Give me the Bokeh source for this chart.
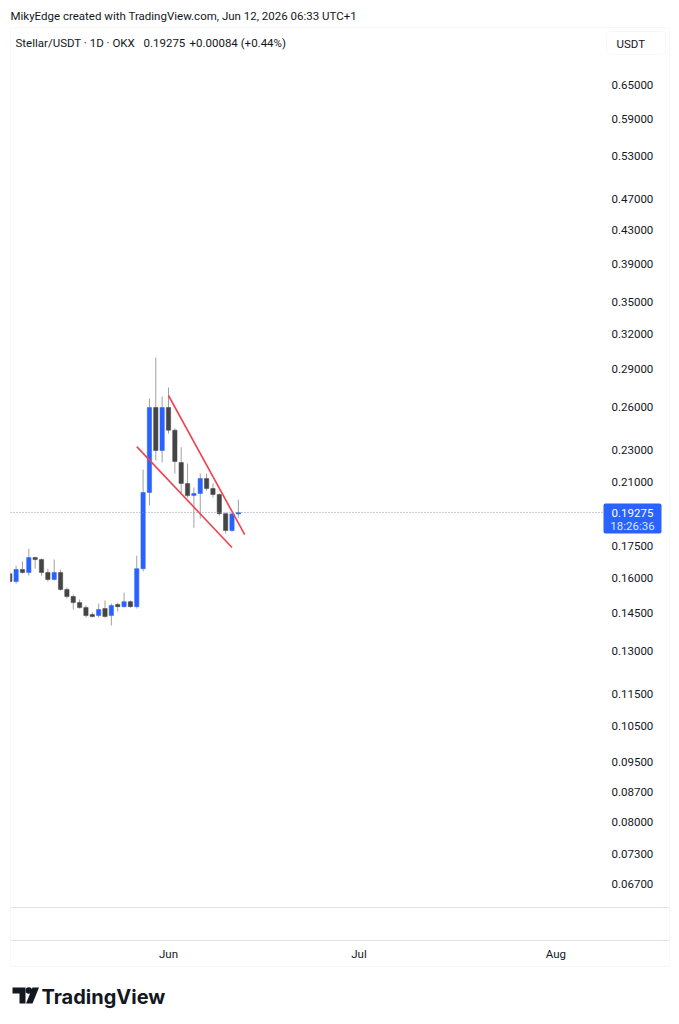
import numpy as np
import pandas as pd
from bokeh.plotting import figure
from bokeh.models import (Range1d, LinearScale, FixedTicker, PrintfTickFormatter, Label,
                          BoxAnnotation, ColumnDataSource)
from bokeh.embed import file_html
from bokeh.resources import INLINE

# ---------------- data ----------------
dates = pd.date_range("2026-05-07", "2026-06-12", freq="D")
opens = [0.1620, 0.1584, 0.1639, 0.1625, 0.1696, 0.1686, 0.1625, 0.1593, 0.1625, 0.1549,
         0.1518, 0.1492, 0.1471, 0.1442, 0.1438, 0.1467, 0.1438, 0.1484, 0.1475, 0.1496,
         0.1475, 0.1643, 0.2040, 0.2597, 0.2298, 0.2597, 0.2435, 0.2221, 0.2093, 0.2022,
         0.2034, 0.2122, 0.2063, 0.2028, 0.1921, 0.1831, 0.19191]
highs = [0.1630, 0.1657, 0.1677, 0.1739, 0.1700, 0.1691, 0.1643, 0.1686, 0.1639, 0.1557,
         0.1527, 0.1505, 0.1480, 0.1451, 0.1488, 0.1501, 0.1488, 0.1492, 0.1535, 0.1501,
         0.1705, 0.2177, 0.2664, 0.2993, 0.2679, 0.2748, 0.2447, 0.2320, 0.2215, 0.2069,
         0.2153, 0.2153, 0.2093, 0.2034, 0.1927, 0.1927, 0.1999]
lows = [0.1575, 0.1575, 0.1620, 0.1611, 0.1643, 0.1611, 0.1584, 0.1589, 0.1544, 0.1509,
        0.1463, 0.1467, 0.1430, 0.1430, 0.1430, 0.1430, 0.1398, 0.1455, 0.1471, 0.1471,
        0.1467, 0.1630, 0.1966, 0.2235, 0.2221, 0.2411, 0.2153, 0.2034, 0.2011, 0.1846,
        0.1894, 0.2050, 0.2011, 0.1910, 0.1815, 0.1825, 0.1900]
closes = [0.1584, 0.1639, 0.1625, 0.1696, 0.1686, 0.1625, 0.1593, 0.1625, 0.1549, 0.1518,
          0.1492, 0.1471, 0.1438, 0.1434, 0.1463, 0.1434, 0.1480, 0.1475, 0.1496, 0.1475,
          0.1643, 0.2040, 0.2597, 0.2298, 0.2597, 0.2435, 0.2228, 0.2093, 0.2022, 0.2034,
          0.2122, 0.2063, 0.2028, 0.1921, 0.1831, 0.19191, 0.19275]

price_ticks = [0.067, 0.073, 0.080, 0.087, 0.095, 0.105, 0.115, 0.130, 0.145, 0.160,
               0.175, 0.210, 0.230, 0.260, 0.290, 0.320, 0.350, 0.390, 0.430, 0.470,
               0.530, 0.590, 0.650]
time_tick_dates = ["2026-06-01", "2026-07-01", "2026-08-01"]
time_tick_labels = ["Jun", "Jul", "Aug"]

last_price = 0.19275
countdown = "18:26:36"
change_text = "+0.00084 (+0.44%)"

upper_line_dates = ["2026-06-01", "2026-06-13"]
upper_line_prices = [0.2687, 0.1810]
lower_line_dates = ["2026-05-27", "2026-06-11"]
lower_line_prices = [0.2324, 0.1745]

# ---------------- layout helpers ----------------
DAY = 86400000.0
def ms(s):
    return pd.Timestamp(s).value / 1e6

W, H = 671, 1016
PX_DAY = 6.35          # pixels per day
X_JUN1 = 168.0         # canvas x of Jun 1
K = 352.05             # pixels per ln-unit of price
Y_REF, P_REF = 84.0, 0.65
PANE_L, PANE_R, PANE_T, PANE_B = 10, 603, 27, 907

def xdata(px):
    return ms("2026-06-01") + (px - X_JUN1) / PX_DAY * DAY

def ydata(py):
    return P_REF * np.exp(-(py - Y_REF) / K)

x = [d.value / 1e6 for d in dates]
up = [c >= o for o, c in zip(opens, closes)]
src = ColumnDataSource(dict(
    x=x, high=highs, low=lows,
    top=[max(o, c) for o, c in zip(opens, closes)],
    bottom=[min(o, c) for o, c in zip(opens, closes)],
    color=["#2962ff" if u else "#454545" for u in up],
))

p = figure(width=W, height=H, x_range=Range1d(xdata(0), xdata(W)),
           y_range=Range1d(ydata(H), ydata(0)),
           y_axis_type="log", y_axis_location="right", output_backend="svg",
           toolbar_location=None, min_border=0, min_border_left=0, min_border_right=0,
           min_border_top=0, min_border_bottom=0,
           background_fill_color="white", border_fill_color="white", outline_line_color=None)
p.grid.visible = False

p.extra_x_ranges = {"px": Range1d(0, W)}
p.extra_x_scales = {"px": LinearScale()}
p.extra_y_ranges = {"py": Range1d(H, 0)}
p.extra_y_scales = {"py": LinearScale()}

# price axis
ya = p.yaxis[0]
ya.fixed_location = xdata(PANE_R)
ya.ticker = FixedTicker(ticks=price_ticks)
ya.formatter = PrintfTickFormatter(format="%.5f")
ya.axis_line_color = None
ya.major_tick_line_color = None
ya.minor_tick_line_color = None
ya.major_tick_out = 0
ya.major_tick_in = 0
ya.major_label_standoff = 8
ya.major_label_text_font = "Roboto"
ya.major_label_text_font_size = "11.5px"
ya.major_label_text_color = "#131722"

# time axis
xa = p.xaxis[0]
xa.fixed_location = ydata(PANE_B)
tick_ms = [ms(d) for d in time_tick_dates]
xa.ticker = FixedTicker(ticks=tick_ms)
xa.major_label_overrides = {t: l for t, l in zip(tick_ms, time_tick_labels)}
xa.axis_line_color = None
xa.major_tick_line_color = None
xa.minor_tick_line_color = None
xa.major_tick_out = 0
xa.major_tick_in = 0
xa.major_label_standoff = 39
xa.major_label_text_font = "Roboto"
xa.major_label_text_font_size = "11.5px"
xa.major_label_text_color = "#131722"

def pbox(l, r, t, b, **kw):
    p.add_layout(BoxAnnotation(left=l, right=r, top=t, bottom=b, x_range_name="px",
                               y_range_name="py", **kw))

BORDER = "#e0e3eb"

# candles
p.segment(x0="x", y0="high", x1="x", y1="low", color="#a0a0a0", line_width=1, source=src)
p.vbar(x="x", top="top", bottom="bottom", width=0.68 * DAY, fill_color="color",
       line_color="color", line_width=0.5, source=src)

# trend lines
p.line([ms(d) for d in upper_line_dates], upper_line_prices, color="#ee4350", line_width=1.6)
p.line([ms(d) for d in lower_line_dates], lower_line_prices, color="#ee4350", line_width=1.6)

# last price dotted line across the pane
p.line(x=[PANE_L, PANE_R], y=[last_price, last_price], x_range_name="px",
       line_color="#9598a1", line_dash="1 2", line_width=1)

# mask left of pane, then frame decorations
pbox(0, PANE_L - 0.5, 0, H, fill_color="white", fill_alpha=1, line_color=None)
pbox(10, 669, 27, 966, fill_alpha=0, line_color=BORDER, line_width=1, border_radius=3)
pbox(10, 669, 906.5, 907.5, fill_color=BORDER, fill_alpha=1, line_color=None)
pbox(10, 669, 939.5, 940.5, fill_color=BORDER, fill_alpha=1, line_color=None)
pbox(606, 665, 31, 54, fill_color="white", fill_alpha=1, line_color=BORDER, border_radius=4)

# price box
pbox(603, 661, 503, 533, fill_color="#2962ff", fill_alpha=1, line_color=None, border_radius=2)

def plabel(xx, yy, text, size="11.5px", color="#131722", align="left", style="normal", font="Roboto"):
    p.add_layout(Label(x=xx, y=yy, x_range_name="px", y_range_name="py", text=text,
                       text_font=font, text_font_size=size, text_color=color,
                       text_align=align, text_baseline="middle", text_font_style=style))

plabel(632, 512, f"{last_price:.5f}", color="white", align="center")
plabel(632, 525, countdown, color="#dce6ff", align="center")

# header texts
plabel(10, 15, "MikyEdge created with TradingView.com, Jun 12, 2026 06:33 UTC+1")
plabel(15, 42, "Stellar/USDT · 1D · OKX")
plabel(143, 42, f"{last_price:.5f}")
plabel(189, 42, change_text)
plabel(616, 43, "USDT")

# TradingView logo (mark drawn in canvas-pixel coordinates)
LOGO = "#131722"
p.patch([12, 25, 25, 19, 19, 12], [987, 987, 1003, 1003, 993, 993],
        x_range_name="px", y_range_name="py", fill_color=LOGO, line_color=None)
p.patch([32, 38.5, 32, 25.5], [987, 987, 1003, 1003],
        x_range_name="px", y_range_name="py", fill_color=LOGO, line_color=None)
p.scatter([28.3], [990], size=6.5, x_range_name="px", y_range_name="py",
          fill_color=LOGO, line_color=None)
plabel(41, 996, "TradingView", size="20px", color=LOGO, style="bold", font="Inter")

open("out.html", "w").write(file_html(p, INLINE))
